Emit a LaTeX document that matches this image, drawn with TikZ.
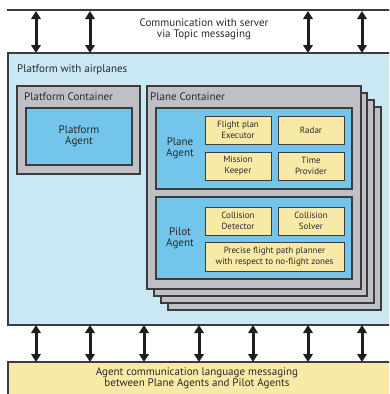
\documentclass[tikz,border=0pt]{standalone}
\usepackage{fontspec}
\setmainfont{PT Sans}
\usetikzlibrary{arrows.meta}
\definecolor{skyfill}{HTML}{C9E8F4}
\definecolor{grayfill}{HTML}{BEC0C6}
\definecolor{agentfill}{HTML}{74C5EC}
\definecolor{yellowfill}{HTML}{F8EAA6}
\definecolor{edgecol}{HTML}{3C3C3C}
\definecolor{txt}{HTML}{2A2A2A}
\definecolor{arrowcol}{HTML}{1E1E1E}
\begin{document}
\begin{tikzpicture}[x=1pt,y=-1pt,
  boxbase/.style={draw=edgecol, anchor=north west, inner sep=0pt, outer sep=0pt, text=txt},
  platformbox/.style={boxbase, fill=skyfill, line width=1.3pt},
  containerbox/.style={boxbase, fill=grayfill, line width=1.2pt},
  agentbox/.style={boxbase, fill=agentfill, line width=1.2pt},
  compbox/.style={boxbase, fill=yellowfill, line width=0.9pt, align=center,
     font=\fontsize{9}{10.8}\selectfont},
  bigtext/.style={text=txt, inner sep=0pt, align=center, font=\fontsize{11}{11.2}\selectfont},
  biarrow/.style={draw=arrowcol, line width=3pt,
     {Triangle[length=8pt,width=9.5pt]}-{Triangle[length=8pt,width=9.5pt]}}
]
\useasboundingbox (0,0) rectangle (389,394);
\clip (0,0) rectangle (389,394);

% top line
\coordinate (topL) at (7,10);
\coordinate (topR) at (395,10);
\draw[edgecol, line width=1.3pt] (topL) -- (topR);

% platform
\node[platformbox, minimum width=390pt, minimum height=272pt] (platform) at (8,53) {};
\node[bigtext, anchor=west] (platformtitle) at (17,70) {Platform with airplanes};

% top arrows
\foreach \i/\x in {1/36,2/90,3/308,4/362}{
  \coordinate (ta\i) at (\x,11);
  \draw[biarrow] (ta\i) -- (ta\i |- platform.north);
}
\node[bigtext] (toptext) at (204,29.5) {Communication with server\\via Topic messaging};

% platform container
\node[containerbox, minimum width=123pt, minimum height=88pt] (pcont) at (17,86) {};
\node[bigtext, anchor=west] (pconttitle) at (24,97) {Platform Container};
\node[agentbox, minimum width=106pt, minimum height=57pt, align=center,
  font=\fontsize{11}{11.2}\selectfont] (pagent) at (26,108) {Platform\\Agent};

% stacked plane containers
\node[containerbox, minimum width=213pt, minimum height=203pt] (plc3) at (168,107) {};
\node[containerbox, minimum width=213pt, minimum height=203pt] (plc2) at (161,100) {};
\node[containerbox, minimum width=213pt, minimum height=203pt] (plc1) at (154,93) {};
\node[containerbox, minimum width=214pt, minimum height=203pt] (plc) at (147,86) {};
\node[bigtext, anchor=west] (plctitle) at (150,97) {Plane Container};

% plane agent
\node[agentbox, minimum width=196pt, minimum height=81pt] (planeagent) at (156,108) {};
\node[bigtext] (planeagentlabel) at (180,148) {Plane\\Agent};
\node[compbox, minimum width=66pt, minimum height=28pt] (fpe) at (205,116) {Flight plan\\Executor};
\node[compbox, minimum width=66pt, minimum height=28pt] (radar) at (278,116) {Radar};
\node[compbox, minimum width=66pt, minimum height=28pt] (mk) at (205,152) {Mission\\Keeper};
\node[compbox, minimum width=66pt, minimum height=28pt] (tp) at (278,152) {Time\\Provider};

% pilot agent
\node[agentbox, minimum width=196pt, minimum height=82pt] (pilotagent) at (156,197) {};
\node[bigtext] (pilotagentlabel) at (180,238) {Pilot\\Agent};
\node[compbox, minimum width=66pt, minimum height=28pt] (cd) at (205,207) {Collision\\Detector};
\node[compbox, minimum width=66pt, minimum height=28pt] (cs) at (278,207) {Collision\\Solver};
\node[compbox, minimum width=139pt, minimum height=29pt] (pfp) at (205,242) {Precise flight path planner\\with respect to no-flight zones};

% bottom box
\node[boxbase, fill=yellowfill, line width=1.3pt, minimum width=390pt, minimum height=40pt] (acl) at (8,362) {};
\node[bigtext] (acltext) at (197,378.5) {Agent communication language messaging\\between Plane Agents and Pilot Agents};

% bottom arrows
\foreach \i/\x in {1/36,2/90,3/144,4/199,5/253,6/308,7/362}{
  \coordinate (ba\i) at (\x,325);
  \draw[biarrow] (ba\i |- platform.south) -- (ba\i |- acl.north);
}
\end{tikzpicture}
\end{document}
